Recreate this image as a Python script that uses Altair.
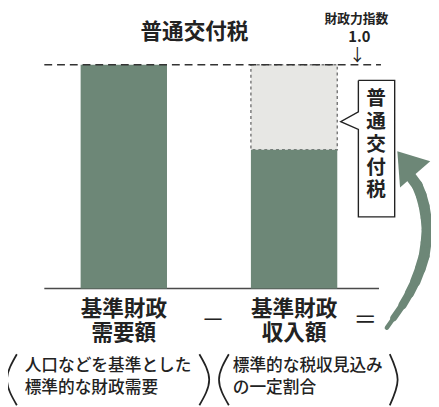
import altair as alt
import pandas as pd

# ---------------- data ----------------
categories = ["基準財政需要額", "基準財政収入額"]
category_index = [0, 1]
label_top = ["基準財政", "基準財政"]
label_bottom = ["需要額", "収入額"]

seg_category = [0, 1, 1]
seg_start = [0.0, 0.0, 0.62]
seg_end = [1.0, 0.62, 1.0]
seg_kind = ["基準財政需要額", "基準財政収入額", "普通交付税"]

fiscal_index = [1.0]
title_text = "普通交付税"
index_title = "財政力指数"
index_value = "1.0"
callout_text = "普\n通\n交\n付\n税"
note_left = ["人口などを基準とした", "標準的な財政需要"]
note_right = ["標準的な税収見込み", "の一定割合"]

# ---------------- styling / layout ----------------
DARK = "#6d8777"
LIGHT = "#e7e7e4"
INK = "#222222"
FONT = "Noto Sans CJK JP"
W, H = 431, 399
X_DOMAIN = [-0.6801, 1.8040]
Y_DOMAIN = [-0.5132, 1.2368]
HALF = 0.2536

xs = alt.Scale(domain=X_DOMAIN, nice=False, zero=False)
ys = alt.Scale(domain=Y_DOMAIN, nice=False, zero=False)


def P(v):
    # page pixel -> plot pixel (8px page margin)
    return v - 8


seg = pd.DataFrame({
    "cat": seg_category,
    "y0": seg_start,
    "y1": seg_end,
    "kind": seg_kind,
})
seg["xa"] = seg["cat"] - HALF
seg["xb"] = seg["cat"] + HALF

dark = alt.Chart(seg[seg["kind"] != "普通交付税"]).mark_rect(color=DARK).encode(
    x=alt.X("xa:Q", scale=xs, axis=None), x2="xb:Q",
    y=alt.Y("y0:Q", scale=ys, axis=None), y2="y1:Q",
)
light = alt.Chart(seg[seg["kind"] == "普通交付税"]).mark_rect(
    fill=LIGHT, stroke="#7a7a7a", strokeWidth=1.5, strokeDash=[3, 3]
).encode(
    x=alt.X("xa:Q", scale=xs, axis=None), x2="xb:Q",
    y=alt.Y("y0:Q", scale=ys, axis=None), y2="y1:Q",
)

baseline = alt.Chart(pd.DataFrame({"v": [0.0]})).mark_rule(
    color="#4a4a4a", strokeWidth=1.5
).encode(y=alt.Y("v:Q", scale=ys, axis=None), x=alt.value(P(45)), x2=alt.value(P(386)))

index_line = alt.Chart(pd.DataFrame({"v": fiscal_index})).mark_rule(
    color="#333333", strokeWidth=1.6, strokeDash=[8, 5]
).encode(y=alt.Y("v:Q", scale=ys, axis=None), x=alt.value(P(45)), x2=alt.value(P(388)))


def text_at(txt, x, y, size, weight="normal", align="center", baseline="middle", **kw):
    return alt.Chart(pd.DataFrame({"t": [txt]})).mark_text(
        font=FONT, fontSize=size, fontWeight=weight, align=align,
        baseline=baseline, color=INK, **kw
    ).encode(text="t:N", x=alt.value(P(x)), y=alt.value(P(y)))


title = text_at(title_text, 198, 29, 22, weight="bold")
idx1 = text_at(index_title, 363, 16, 13, weight="bold")
idx2 = text_at(index_value, 366, 34, 15, weight="bold")
idx3 = text_at("↓", 364, 53, 17)

# bar labels placed at category positions
lab = pd.DataFrame({"cat": category_index, "top": label_top, "bottom": label_bottom})
lab_top = alt.Chart(lab).mark_text(font=FONT, fontSize=22, fontWeight="bold", color=INK, baseline="middle").encode(
    x=alt.X("cat:Q", scale=xs, axis=None), y=alt.value(P(311)), text="top:N")
lab_bot = alt.Chart(lab).mark_text(font=FONT, fontSize=22, fontWeight="bold", color=INK, baseline="middle").encode(
    x=alt.X("cat:Q", scale=xs, axis=None), y=alt.value(P(335)), text="bottom:N")
minus = text_at("－", 217, 323, 24)
equals = text_at("＝", 372, 323, 24)

# notes
notes = alt.layer(
    text_at(note_left[0], 25, 369, 17, weight=500, align="left"),
    text_at(note_left[1], 25, 392, 17, weight=500, align="left"),
    text_at(note_right[0], 237, 369, 17, weight=500, align="left"),
    text_at(note_right[1], 237, 392, 17, weight=500, align="left"),
)

# parentheses (decorative curves)
par_rows = []
for pid, pts in enumerate([
    [(17, 357), (7, 383), (17, 409)],
    [(203, 357), (213, 383), (203, 409)],
    [(233, 357), (223, 383), (233, 409)],
    [(397, 357), (405, 383), (397, 409)],
]):
    for i, (px, py) in enumerate(pts):
        par_rows.append({"id": pid, "i": i, "px": P(px), "py": P(py)})
parens = alt.Chart(pd.DataFrame(par_rows)).mark_line(
    color=INK, strokeWidth=1.8, interpolate="natural"
).encode(
    x=alt.X("px:Q", scale=None), y=alt.Y("py:Q", scale=None),
    detail="id:N", order="i:Q",
)

# callout box
box_pts = [(365, 78), (402, 78), (402, 217), (365, 217), (365, 128), (347, 120), (365, 110), (365, 78)]
box = alt.Chart(pd.DataFrame({
    "i": list(range(len(box_pts))),
    "px": [P(p[0]) for p in box_pts],
    "py": [P(p[1]) for p in box_pts],
})).mark_line(color=INK, strokeWidth=1.4, strokeJoin="miter").encode(
    x=alt.X("px:Q", scale=None), y=alt.Y("py:Q", scale=None), order="i:Q")
box_text = alt.Chart(pd.DataFrame({"t": [callout_text]})).mark_text(
    font=FONT, fontSize=20, fontWeight="bold", color=INK, lineBreak="\n", lineHeight=23.3,
    baseline="top", align="center"
).encode(text="t:N", x=alt.value(P(383)), y=alt.value(P(87)))

# curved arrow as tapered segments
arc_pts = [
    (394, 330, 3), (401, 320, 6), (410, 307, 8), (417, 295, 9), (423, 283, 10),
    (428, 270, 11), (432, 257, 11), (434, 243, 11), (435, 230, 11), (434, 218, 11),
    (432, 206, 11), (429, 195, 11), (425, 185, 11), (419, 177, 11),
]
arc_rows = []
for a, b in zip(arc_pts[:-1], arc_pts[1:]):
    arc_rows.append({"x1": P(a[0]), "y1": P(a[1]), "x2": P(b[0]), "y2": P(b[1]),
                     "w": (a[2] + b[2]) / 2})
arrow = alt.Chart(pd.DataFrame(arc_rows)).mark_rule(color=DARK, strokeCap="round").encode(
    x=alt.X("x1:Q", scale=None), y=alt.Y("y1:Q", scale=None),
    x2="x2:Q", y2="y2:Q",
    strokeWidth=alt.StrokeWidth("w:Q", scale=None, legend=None))
head = alt.Chart(pd.DataFrame({"k": [0]})).mark_point(
    shape="M-0.58,-0.75L-0.45,1L1,-0.26Z", filled=True, size=1800,
    color=DARK, opacity=1, strokeWidth=0
).encode(x=alt.value(P(417)), y=alt.value(P(166)))

chart = alt.layer(
    baseline, light, dark, index_line,
    title, idx1, idx2, idx3,
    lab_top, lab_bot, minus, equals,
    notes, parens, box, box_text, arrow, head,
).resolve_scale(x="independent", y="independent").properties(
    width=W, height=H, autosize=alt.AutoSizeParams(type="none"), padding=0,
    background="white",
).configure_view(stroke=None)

chart.save("out.html", embed_options={"renderer": "svg", "actions": False})
